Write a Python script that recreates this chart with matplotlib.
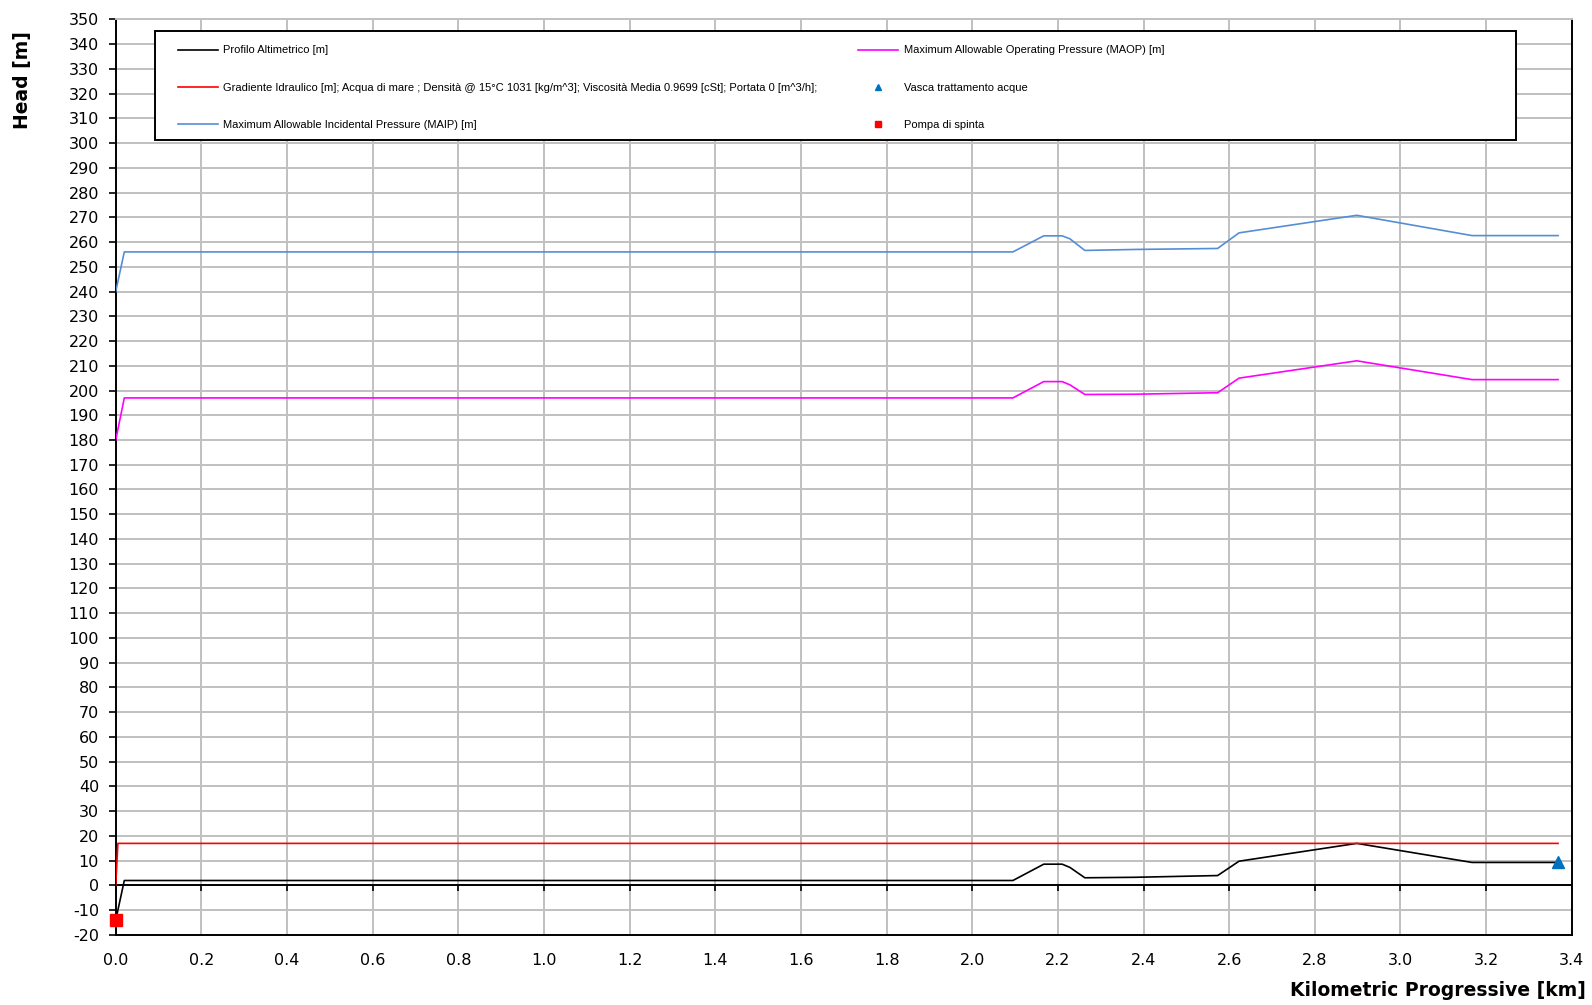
import matplotlib
matplotlib.use('Agg')
import matplotlib.pyplot as plt
import numpy as np
from matplotlib.lines import Line2D
from matplotlib.patches import Rectangle

plt.rcParams['axes.unicode_minus'] = False

# progressive distance [km] of the profile points
km = [0.0, 0.02, 2.095, 2.167, 2.21, 2.228, 2.263, 2.38, 2.573, 2.623, 2.898, 3.167, 3.368]
profilo = [-14, 2, 2, 8.6, 8.6, 7.3, 3.1, 3.3, 4.0, 9.8, 17.0, 9.3, 9.3]
maip = [240, 256, 256, 262.5, 262.5, 261.3, 256.6, 257.0, 257.4, 263.7, 270.8, 262.6, 262.6]
maop = [180, 197, 197, 203.6, 203.6, 202.3, 198.4, 198.5, 199.1, 205.0, 212.0, 204.4, 204.4]

# hydraulic gradient (zero flow)
km_grad = [0.0, 0.005, 3.368]
gradiente = [0, 17, 17]

# point elements
pompa = (0.0, -14)
vasca = (3.368, 9.3)

lbl_profilo = 'Profilo Altimetrico [m]'
lbl_grad = ('Gradiente Idraulico [m]; Acqua di mare ; Densità @ 15°C 1031 [kg/m^3]; '
            'Viscosità Media 0.9699 [cSt]; Portata 0 [m^3/h];')
lbl_maip = 'Maximum Allowable Incidental Pressure (MAIP) [m]'
lbl_maop = 'Maximum Allowable Operating Pressure (MAOP) [m]'
lbl_vasca = 'Vasca trattamento acque'
lbl_pompa = 'Pompa di spinta'

xticks = np.round(np.arange(0, 3.41, 0.2), 1)
yticks = np.arange(-20, 351, 10)

c_maip = '#558ED5'
c_maop = '#FF00FF'
c_grad = '#FF0000'
c_vasca = '#0070C0'
c_grid = '#C0C0C0'

fig = plt.figure(figsize=(15.92, 10.05), dpi=100)
ax = fig.add_axes([0.0727, 0.0697, 0.9146, 0.9111])

ax.set_xlim(0, 3.4)
ax.set_ylim(-20, 350)
ax.set_xticks(xticks)
ax.set_xticklabels([f'{v:.1f}' for v in xticks])
ax.set_yticks(yticks)
ax.grid(True, color=c_grid, linewidth=1.4, zorder=0)
ax.set_axisbelow(True)

ax.tick_params(axis='y', length=5, width=1.2, pad=7, labelsize=11.5)
ax.tick_params(axis='x', length=0, pad=13, labelsize=11.5)
for s in ['left', 'bottom', 'right']:
    ax.spines[s].set_linewidth(1.4)
ax.spines['top'].set_color(c_grid)
ax.spines['top'].set_linewidth(1.4)

# x axis crossing at zero with its tick marks
ax.axhline(0, color='black', linewidth=1.4, zorder=2)
ax.vlines(xticks, -2.3, 0, color='black', linewidth=1.2, zorder=2)

lw = 1.2
ax.plot(km, profilo, color='black', linewidth=lw, zorder=3)
ax.plot(km_grad, gradiente, color=c_grad, linewidth=lw, zorder=3)
ax.plot(km, maip, color=c_maip, linewidth=lw, zorder=3)
ax.plot(km, maop, color=c_maop, linewidth=lw, zorder=3)
ax.plot(*vasca, marker='^', color=c_vasca, markersize=9, linestyle='none', zorder=5, clip_on=False)
ax.plot(*pompa, marker='s', color=c_grad, markersize=8.5, linestyle='none', zorder=5, clip_on=False)

# legend box with two columns
ax.add_patch(Rectangle((0.0272, 0.8682), 0.9345, 0.1185, transform=ax.transAxes,
                       facecolor='white', edgecolor='black', linewidth=1.4, zorder=6))

h_col1 = [Line2D([], [], color='black', linewidth=lw),
          Line2D([], [], color=c_grad, linewidth=lw),
          Line2D([], [], color=c_maip, linewidth=lw)]
h_col2 = [Line2D([], [], color=c_maop, linewidth=lw),
          Line2D([], [], color=c_vasca, marker='^', markersize=5, linestyle='none'),
          Line2D([], [], color=c_grad, marker='s', markersize=4.5, linestyle='none')]

leg_kw = dict(frameon=False, loc='upper left', borderpad=0, borderaxespad=0,
              handlelength=3.6, handletextpad=0.5, labelspacing=2.45,
              prop={'family': 'Liberation Sans', 'size': 8})
leg1 = ax.legend(h_col1, [lbl_profilo, lbl_grad, lbl_maip],
                 bbox_to_anchor=(0.0426, 0.9715), **leg_kw)
leg1.set_zorder(7)
ax.add_artist(leg1)
leg2 = ax.legend(h_col2, [lbl_maop, lbl_vasca, lbl_pompa],
                 bbox_to_anchor=(0.5098, 0.9715), **leg_kw)
leg2.set_zorder(7)

fig.text(0.014, 0.92, 'Head [m]', rotation=90, ha='center', va='center',
         fontsize=13.5, fontweight='bold')
fig.text(0.996, 0.014, 'Kilometric Progressive [km]', ha='right', va='center',
         fontsize=13.5, fontweight='bold')

fig.savefig('out.png', dpi=100)
